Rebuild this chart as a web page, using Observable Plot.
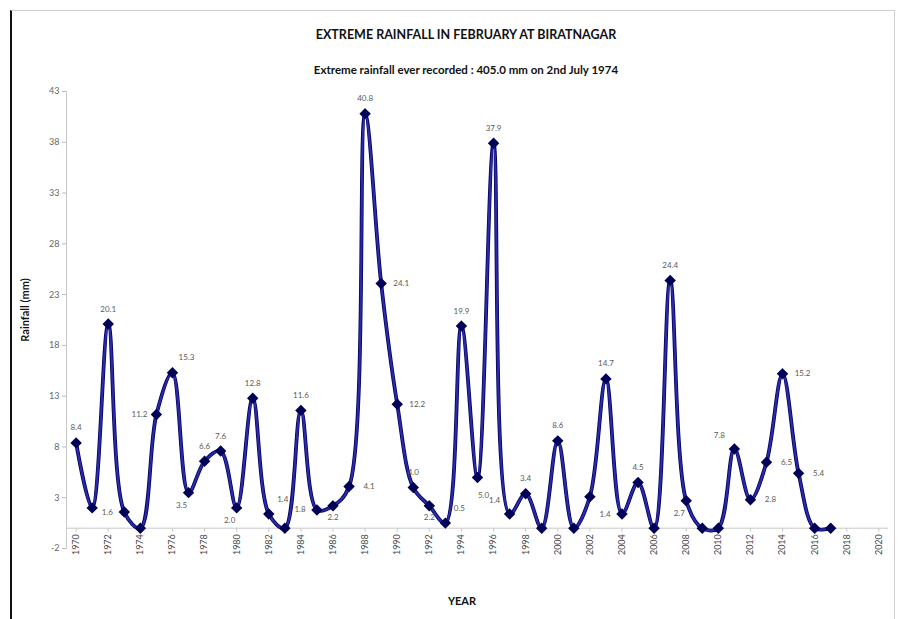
<!DOCTYPE html>
<html>
<head>
<meta charset="utf-8">
<script src="https://cdn.jsdelivr.net/npm/d3@7"></script>
<script src="https://cdn.jsdelivr.net/npm/@observablehq/plot@0.6"></script>
<style>
  html, body { margin: 0; padding: 0; background: #fff; }
  #wrap { position: relative; width: 899px; height: 619px; overflow: hidden; font-family: Lato, "Open Sans", sans-serif; }
  #frame { position: absolute; left: 10px; top: 10px; width: 882px; height: 620px; border-left: 2px solid #111; border-top: 1px solid #d0d0d0; border-right: 1px solid #d0d0d0; }
  #chart { position: absolute; left: 0; top: 0; }
  .t { position: absolute; left: 0; width: 932px; text-align: center; font-weight: bold; color: #111; }
  #title { top: 27px; font-size: 12.5px; }
  #sub { top: 63px; font-size: 11.5px; }
  #ylab { position: absolute; left: 24px; top: 310px; transform: translate(-50%, -50%) rotate(-90deg); font-size: 11px; font-weight: bold; white-space: nowrap; color: #111; }
  #xlab { position: absolute; left: 462px; top: 594px; transform: translateX(-50%); font-size: 11px; font-weight: bold; color: #111; }
</style>
</head>
<body>
<div id="wrap">
  <div id="frame"></div>
  <div id="chart"></div>
  <div class="t" id="title">EXTREME RAINFALL IN FEBRUARY AT BIRATNAGAR</div>
  <div class="t" id="sub">Extreme rainfall ever recorded : 405.0 mm on 2nd July 1974</div>
  <div id="ylab">Rainfall (mm)</div>
  <div id="xlab">YEAR</div>
</div>
<script>
const years = d3.range(1970, 2018);
const rainfall = [
  8.4, 2.0, 20.1, 1.6, 0.0, 11.2, 15.3, 3.5, 6.6, 7.6,
  2.0, 12.8, 1.4, 0.0, 11.6, 1.8, 2.2, 4.1, 40.8, 24.1,
  12.2, 4.0, 2.2, 0.5, 19.9, 5.0, 37.9, 1.4, 3.4, 0.0,
  8.6, 0.0, 3.1, 14.7, 1.4, 4.5, 0.0, 24.4, 2.7, 0.0,
  0.0, 7.8, 2.8, 6.5, 15.2, 5.4, 0.0, 0.0
];
const labelPlace = [
  "t", "", "t", "l", "", "l", "tr", "bl", "t", "t",
  "bl", "t", "tr", "", "t", "l", "b", "r", "t", "r",
  "r", "t", "b", "tr", "t", "br", "t", "tl", "t", "",
  "t", "", "", "t", "l", "t", "", "t", "bl", "",
  "", "tl", "r", "r", "r", "r", "", ""
];
const yTicks = [-2, 3, 8, 13, 18, 23, 28, 33, 38, 43];
const xTicks = d3.range(1970, 2021, 2);

const data = years.map((y, i) => ({year: y, value: rainfall[i], place: labelPlace[i]}));

const offsets = {
  t: {dx: 0, dy: -15}, l: {dx: -17, dy: 0}, r: {dx: 20, dy: 0}, b: {dx: 0, dy: 12},
  tr: {dx: 14, dy: -15}, tl: {dx: -15, dy: -14}, br: {dx: 6, dy: 18}, bl: {dx: -7, dy: 13}
};

const labelMarks = Object.entries(offsets).map(([k, o]) =>
  Plot.text(data.filter(d => d.place === k), {
    x: "year", y: "value", text: d => d.value.toFixed(1),
    dx: o.dx, dy: o.dy, fill: "#5a5a5a", fontSize: 8
  })
);

const chart = Plot.plot({
  width: 899,
  height: 619,
  marginLeft: 66,
  marginRight: 11,
  marginTop: 91,
  marginBottom: 71,
  style: {fontFamily: "Lato, 'Open Sans', sans-serif", background: "transparent", overflow: "visible"},
  x: {domain: [1969.4, 2020.6], axis: null},
  y: {domain: [-2, 43], axis: null},
  marks: [
    Plot.axisY({ticks: yTicks, tickSize: 4, tickFormat: d => String(d), label: null, fontSize: 9, color: "#666", stroke: "#bbb", tickPadding: 3}),
    Plot.frame({anchor: "left", stroke: "#c8c8c8"}),
    Plot.ruleY([0], {stroke: "#c8c8c8"}),
    Plot.ruleX(xTicks, {x: d => d, y1: 0, y2: -0.4, stroke: "#c8c8c8"}),
    Plot.text(xTicks, {x: d => d, y: 0, text: d => String(d), rotate: -90, textAnchor: "end", dy: 6, fontSize: 9, fill: "#444"}),
    Plot.line(data, {x: "year", y: "value", curve: "catmull-rom", stroke: "#000060", strokeWidth: 3.8}),
    Plot.line(data, {x: "year", y: "value", curve: "catmull-rom", stroke: "#2a2aa6", strokeWidth: 2.2}),
    Plot.dot(data, {x: "year", y: "value", symbol: "diamond2", r: 4.2, fill: "#000058", stroke: "#000058"}),
    ...labelMarks
  ]
});
document.getElementById("chart").appendChild(chart);
</script>
</body>
</html>
